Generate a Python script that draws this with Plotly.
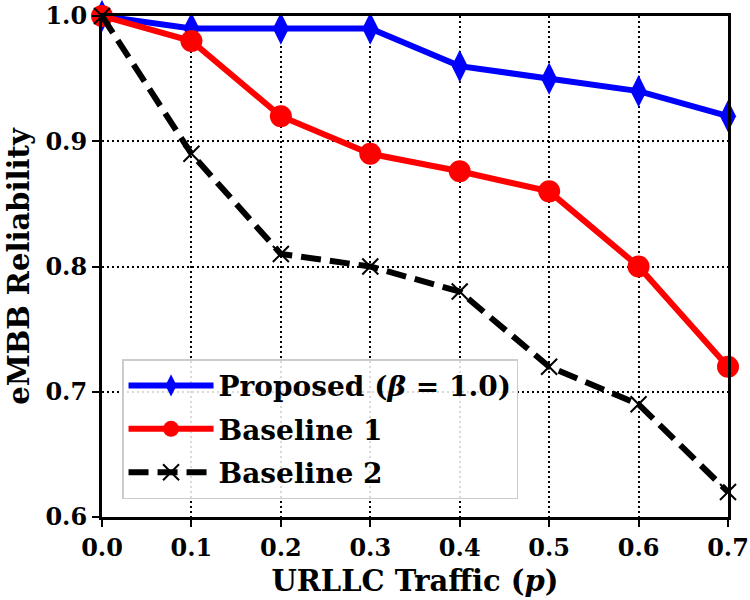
import plotly.graph_objects as go

x_vals = [0.0, 0.1, 0.2, 0.3, 0.4, 0.5, 0.6, 0.7]
proposed = [1.0, 0.99, 0.99, 0.99, 0.96, 0.95, 0.94, 0.92]
baseline1 = [1.0, 0.98, 0.92, 0.89, 0.876, 0.86, 0.80, 0.72]
baseline2 = [1.0, 0.89, 0.81, 0.80, 0.78, 0.72, 0.69, 0.62]
x_ticks = [0.0, 0.1, 0.2, 0.3, 0.4, 0.5, 0.6, 0.7]
x_tick_labels = ["0.0", "0.1", "0.2", "0.3", "0.4", "0.5", "0.6", "0.7"]
y_ticks = [0.6, 0.7, 0.8, 0.9, 1.0]
y_tick_labels = ["0.6", "0.7", "0.8", "0.9", "1.0"]

FONT = "DejaVu Serif"

fig = go.Figure()
fig.add_trace(go.Scatter(
    x=x_vals, y=proposed, mode="lines+markers",
    name="<b>Proposed (<i>β</i> = 1.0)</b>", legendgroup="a",
    line=dict(color="blue", width=6),
    marker=dict(symbol="diamond-tall", size=23, color="blue"),
    cliponaxis=False,
))
fig.add_trace(go.Scatter(
    x=x_vals, y=baseline1, mode="lines+markers",
    name="<b>Baseline 1</b>", legendgroup="b",
    line=dict(color="red", width=6),
    marker=dict(symbol="circle", size=22, color="red"),
    cliponaxis=False,
))
fig.add_trace(go.Scatter(
    x=x_vals, y=baseline2, mode="lines+markers",
    name="<b>Baseline 2</b>", legendgroup="c",
    line=dict(color="black", width=6, dash="20px,9px"),
    marker=dict(symbol="x-thin", size=16, color="black", line=dict(width=2, color="black")),
    cliponaxis=False,
))

axis_common = dict(
    showline=True, linecolor="black", linewidth=3, mirror=True,
    showgrid=True, gridcolor="black", gridwidth=2, griddash="2px,3px",
    ticks="outside", ticklen=7, tickwidth=2, tickcolor="black",
    zeroline=False, automargin=False, ticklabeloverflow="allow",
    tickfont=dict(family=FONT, size=24, color="black"),
)

fig.update_xaxes(
    range=[0.0, 0.7], tickvals=x_ticks, ticktext=[f"<b>{t}</b>" for t in x_tick_labels],
    title=dict(text="<b>URLLC Traffic (<i>p</i>)</b>", font=dict(family=FONT, size=29, color="black"), standoff=10),
    **axis_common,
)
fig.update_yaxes(
    range=[0.6, 1.0], tickvals=y_ticks, ticktext=[f"<b>{t}</b>" for t in y_tick_labels],
    title=dict(text="<b>eMBB Reliability</b>", font=dict(family=FONT, size=29, color="black"), standoff=8),
    **axis_common,
)

fig.update_layout(
    width=750, height=600,
    margin=dict(l=102, r=22, t=16, b=83),
    plot_bgcolor="white", paper_bgcolor="white",
    font=dict(family=FONT, color="black"),
    showlegend=True,
    legend=dict(
        x=0.032, y=0.315, xanchor="left", yanchor="top",
        bgcolor="rgba(255,255,255,0.85)", bordercolor="#cccccc", borderwidth=1.5,
        font=dict(family=FONT, size=28, color="black"),
        itemwidth=85, tracegroupgap=4,
    ),
)

fig.write_html("out.html")
